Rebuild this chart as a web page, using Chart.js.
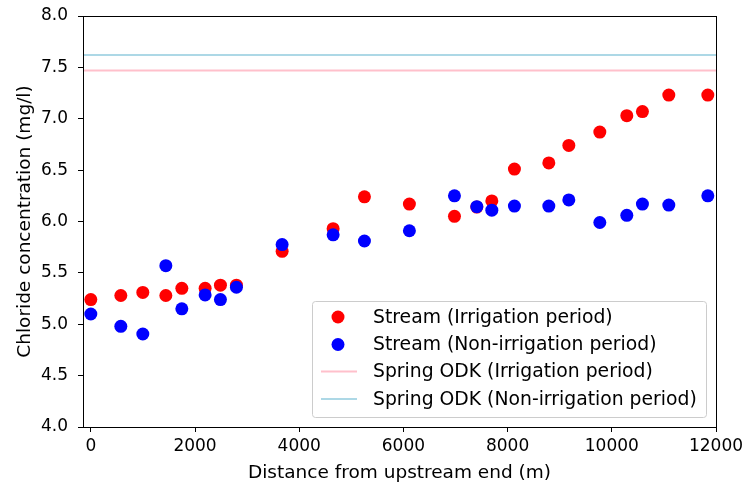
<!DOCTYPE html>
<html>
<head>
<meta charset="utf-8">
<script src="https://cdn.jsdelivr.net/npm/chart.js@4.4.1/dist/chart.umd.min.js"></script>
<style>
  html, body { margin: 0; padding: 0; background: #fff; }
  #wrap { width: 748px; height: 486px; }
</style>
</head>
<body>
<div id="wrap"><canvas id="chart" width="748" height="486"></canvas></div>
<script>
// Chloride along the stream

// distance from upstream end (m)
const distances = [0, 576, 998, 1440, 1747, 2194, 2488, 2795, 3672, 4651, 5252, 6115,
    6980, 7409, 7697, 8131, 8791, 9175, 9770, 10288, 10588, 11094, 11843];

// chloride (mg/l)
const irrigation = [5.24, 5.28, 5.31, 5.28, 5.35, 5.35, 5.38, 5.38, 5.71, 5.93, 6.24, 6.17,
    6.05, 6.14, 6.20, 6.51, 6.57, 6.74, 6.87, 7.03, 7.07, 7.23, 7.23];
const nonIrrigation = [5.10, 4.98, 4.905, 5.57, 5.15, 5.285, 5.24, 5.36, 5.775, 5.87, 5.81, 5.91,
    6.25, 6.144, 6.11, 6.15, 6.15, 6.21, 5.99, 6.06, 6.17, 6.16, 6.25];

// spring ODK reference levels
const springIrrigation = 7.47;
const springNonIrrigation = 7.62;

const xRange = [-150, 12000];
const yTicks = [4.0, 4.5, 5.0, 5.5, 6.0, 6.5, 7.0, 7.5, 8.0];
const xTicks = [0, 2000, 4000, 6000, 8000, 10000, 12000];

const labels = [
    'Stream (Irrigation period)',
    'Stream (Non-irrigation period)',
    'Spring ODK (Irrigation period)',
    'Spring ODK (Non-irrigation period)'
];

const FONT = 'DejaVu Sans';

function toPoints(xs, ys) {
    return xs.map((x, i) => ({ x: x, y: ys[i] }));
}

// frame round the plot area (matplotlib style spines)
const framePlugin = {
    id: 'frame',
    afterDatasetsDraw(chart) {
        const a = chart.chartArea;
        const ctx = chart.ctx;
        ctx.save();
        ctx.strokeStyle = '#000';
        ctx.lineWidth = 1;
        ctx.strokeRect(Math.round(a.left) + 0.5, Math.round(a.top) + 0.5,
            Math.round(a.right - a.left), Math.round(a.bottom - a.top));
        ctx.restore();
    }
};

// legend box in the lower right corner, inside the axes
const boxLegend = {
    id: 'boxLegend',
    afterDraw(chart) {
        const ctx = chart.ctx;
        const a = chart.chartArea;
        const w = 394, h = 116;
        const x0 = Math.round(a.right) - 10 - w;
        const y0 = Math.round(a.bottom) - 10 - h;
        ctx.save();
        ctx.fillStyle = 'rgba(255,255,255,0.8)';
        ctx.strokeStyle = '#cccccc';
        ctx.lineWidth = 1;
        ctx.beginPath();
        ctx.roundRect(x0 + 0.5, y0 + 0.5, w, h, 3);
        ctx.fill();
        ctx.stroke();

        ctx.font = '18.8px "' + FONT + '"';
        ctx.textBaseline = 'middle';
        const rowY = [16, 43.5, 70.5, 98];
        chart.data.datasets.forEach((ds, i) => {
            const cy = y0 + rowY[i];
            if (ds.showLine) {
                ctx.strokeStyle = ds.borderColor;
                ctx.lineWidth = 2;
                ctx.beginPath();
                ctx.moveTo(x0 + 9, cy);
                ctx.lineTo(x0 + 45, cy);
                ctx.stroke();
            } else {
                ctx.fillStyle = ds.backgroundColor;
                ctx.beginPath();
                ctx.arc(x0 + 26, cy, 6.5, 0, Math.PI * 2);
                ctx.fill();
            }
            ctx.fillStyle = '#000';
            ctx.fillText(ds.label, x0 + 61, cy + 1);
        });
        ctx.restore();
    }
};

new Chart(document.getElementById('chart'), {
    type: 'scatter',
    data: {
        datasets: [
            {
                label: labels[0],
                data: toPoints(distances, irrigation),
                backgroundColor: '#ff0000',
                borderWidth: 0,
                pointRadius: 6.5,
                showLine: false,
                order: 2
            },
            {
                label: labels[1],
                data: toPoints(distances, nonIrrigation),
                backgroundColor: '#0000ff',
                borderWidth: 0,
                pointRadius: 6.5,
                showLine: false,
                order: 1
            },
            {
                label: labels[2],
                data: toPoints(xRange, [springIrrigation, springIrrigation]),
                borderColor: '#ffc0cb',
                backgroundColor: '#ffc0cb',
                borderWidth: 2,
                pointRadius: 0,
                showLine: true,
                order: 4
            },
            {
                label: labels[3],
                data: toPoints(xRange, [springNonIrrigation, springNonIrrigation]),
                borderColor: '#add8e6',
                backgroundColor: '#add8e6',
                borderWidth: 2,
                pointRadius: 0,
                showLine: true,
                order: 3
            }
        ]
    },
    options: {
        responsive: false,
        animation: false,
        layout: { padding: { top: 16, right: 32, left: 10, bottom: 0 } },
        plugins: {
            legend: { display: false },
            tooltip: { enabled: false }
        },
        scales: {
            x: {
                type: 'linear',
                min: xRange[0],
                max: xRange[1],
                afterBuildTicks: (s) => { s.ticks = xTicks.map(v => ({ value: v })); },
                afterFit: (s) => { s.height = 59; s.paddingLeft = 0; s.paddingRight = 0; },
                grid: { drawOnChartArea: false, drawTicks: true, tickLength: 5, tickColor: '#000' },
                border: { display: true, color: '#000' },
                ticks: { color: '#000', font: { family: FONT, size: 17 }, padding: 4, maxRotation: 0,
                    callback: (v) => String(v) },
                title: { display: true, text: 'Distance from upstream end (m)', color: '#000',
                    font: { family: FONT, size: 18.5 }, padding: { top: 0, bottom: 2 } }
            },
            y: {
                min: 4.0,
                max: 8.0,
                afterBuildTicks: (s) => { s.ticks = yTicks.map(v => ({ value: v })); },
                afterFit: (s) => { s.width = 73; s.paddingTop = 0; s.paddingBottom = 0; },
                grid: { drawOnChartArea: false, drawTicks: true, tickLength: 5, tickColor: '#000' },
                border: { display: true, color: '#000' },
                ticks: { color: '#000', font: { family: FONT, size: 17 }, padding: 10,
                    callback: (v) => v.toFixed(1) },
                title: { display: true, text: 'Chloride concentration (mg/l)', color: '#000',
                    font: { family: FONT, size: 18.5 }, padding: { bottom: 4 } }
            }
        }
    },
    plugins: [framePlugin, boxLegend]
});
</script>
</body>
</html>
